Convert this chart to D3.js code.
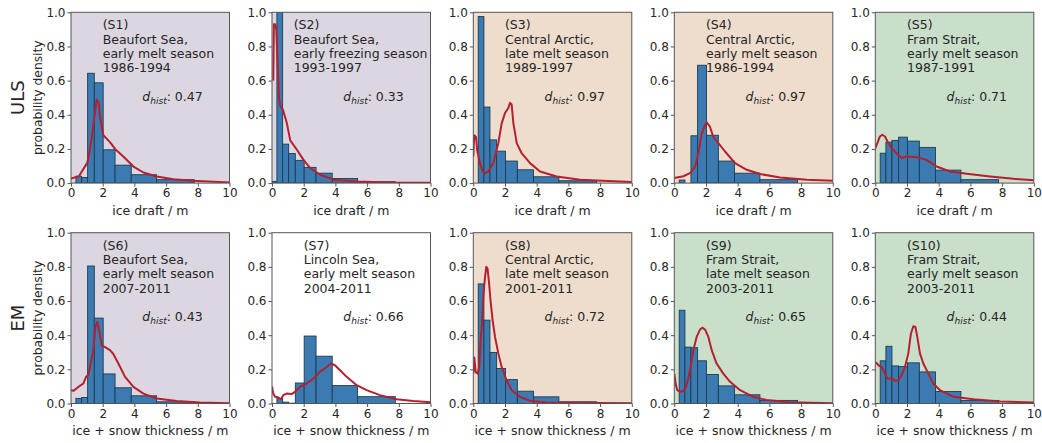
<!DOCTYPE html>
<html>
<head>
<meta charset="utf-8">
<script src="https://cdn.jsdelivr.net/npm/d3@7"></script>
<style>
  html, body { margin: 0; padding: 0; background: #fff; }
  svg { display: block; font-family: "DejaVu Sans", sans-serif; }
</style>
</head>
<body>
<div id="chart"></div>
<script>
// ── Data ───────────────────────────────────────────────────────────────────
const binEdges = [0, 0.31, 0.67, 1.05, 1.47, 2.03, 2.78, 3.8, 5.4, 7.78];

const panelIds = ["S1", "S2", "S3", "S4", "S5", "S6", "S7", "S8", "S9", "S10"];
const regions = ["Beaufort Sea,", "Beaufort Sea,", "Central Arctic,", "Central Arctic,", "Fram Strait,",
                 "Beaufort Sea,", "Lincoln Sea,", "Central Arctic,", "Fram Strait,", "Fram Strait,"];
const seasons = ["early melt season", "early freezing season", "late melt season", "early melt season", "early melt season",
                 "early melt season", "early melt season", "late melt season", "late melt season", "early melt season"];
const periods = ["1986-1994", "1993-1997", "1989-1997", "1986-1994", "1987-1991",
                 "2007-2011", "2004-2011", "2001-2011", "2003-2011", "2003-2011"];
const dhist = ["0.47", "0.33", "0.97", "0.97", "0.71", "0.43", "0.66", "0.72", "0.65", "0.44"];
const regionColor = ["#dcd6e0", "#dcd6e0", "#eedccc", "#eedccc", "#c9dfca",
                     "#dcd6e0", "#ffffff", "#eedccc", "#c9dfca", "#c9dfca"];
const labelX = [2.0, 1.37, 2.0, 2.0, 2.0, 2.0, 2.0, 2.0, 2.0, 2.0];

const rowLabels = ["ULS", "EM"];
const xLabels = ["ice draft / m", "ice + snow thickness / m"];
const xTicks = [0, 2, 4, 6, 8, 10];
const yTicks = [0, 0.2, 0.4, 0.6, 0.8, 1.0];

// observed histograms (one value per bin)
const barsS1  = [0, 0.040, 0.033, 0.643, 0.587, 0.195, 0.105, 0.049, 0.020];
const barsS2  = [0.010, 1.250, 0.228, 0.173, 0.133, 0.092, 0.058, 0.027, 0.008];
const barsS3  = [0, 0.975, 0.445, 0.253, 0.187, 0.129, 0.078, 0.037, 0.014];
const barsS4  = [0, 0.018, 0, 0.277, 0.690, 0.280, 0.129, 0.058, 0.020];
const barsS5  = [0, 0.175, 0.240, 0.250, 0.269, 0.246, 0.209, 0.076, 0.020];
const barsS6  = [0, 0.030, 0.035, 0.805, 0.500, 0.173, 0.092, 0.045, 0.010];
const barsS7  = [0, 0.030, 0.008, 0.002, 0.120, 0.395, 0.277, 0.105, 0.040];
const barsS8  = [0, 0.700, 0.488, 0.299, 0.205, 0.140, 0.072, 0.039, 0.010];
const barsS9  = [0, 0.546, 0.330, 0.327, 0.250, 0.170, 0.103, 0.051, 0.018];
const barsS10 = [0, 0.250, 0.335, 0.220, 0.216, 0.238, 0.185, 0.070, 0.018];

// model distributions [thickness, density]
const modelS1 = [[0,0.027],[0.5,0.04],[1.03,0.12],[1.2,0.2],[1.4,0.33],[1.62,0.49],[1.75,0.47],[1.83,0.39],
  [2.04,0.28],[2.46,0.24],[2.78,0.2],[3.3,0.156],[3.94,0.097],[4.57,0.062],[5.41,0.039],[6.46,0.023],[7.7,0.014],[10,0.004]];
const modelS2 = [[0.08,0.6],[0.12,0.93],[0.21,0.93],[0.27,0.9],[0.36,0.68],[0.44,0.5],[0.52,0.45],[0.69,0.43],
  [0.94,0.35],[1.15,0.25],[1.57,0.195],[1.99,0.136],[2.41,0.088],[3.04,0.049],[3.88,0.02],[5.35,0.01],[7.44,0.004],[10,0.002]];
const modelS3 = [[0,0.156],[0.06,0.28],[0.17,0.27],[0.25,0.19],[0.42,0.117],[0.59,0.068],[0.74,0.058],[0.95,0.068],
  [1.26,0.117],[1.58,0.234],[1.79,0.35],[2.0,0.41],[2.21,0.44],[2.32,0.47],[2.42,0.46],[2.53,0.35],[2.74,0.234],
  [3.05,0.175],[3.58,0.117],[4.21,0.068],[5.26,0.039],[6.74,0.02],[10,0.006]];
const modelS4 = [[0,0.03],[0.57,0.04],[0.99,0.058],[1.31,0.097],[1.52,0.175],[1.73,0.29],[1.94,0.34],[2.04,0.355],
  [2.25,0.33],[2.46,0.27],[2.78,0.234],[3.2,0.185],[3.83,0.117],[4.57,0.078],[5.41,0.053],[6.67,0.033],[8.36,0.02],[10,0.014]];
const modelS5 = [[0,0.205],[0.13,0.234],[0.29,0.273],[0.44,0.283],[0.61,0.273],[0.82,0.234],[1.03,0.205],[1.35,0.175],
  [1.66,0.146],[1.98,0.156],[2.61,0.152],[3.24,0.136],[3.87,0.097],[4.72,0.068],[5.77,0.055],[7.24,0.039],[8.72,0.025],[10,0.016]];
const modelS6 = [[0,0.078],[0.15,0.074],[0.46,0.097],[0.78,0.117],[0.95,0.156],[1.09,0.166],[1.24,0.234],[1.41,0.312],
  [1.54,0.448],[1.66,0.478],[1.77,0.43],[1.94,0.34],[2.15,0.33],[2.46,0.312],[2.67,0.29],[2.99,0.234],[3.41,0.156],
  [3.94,0.097],[4.57,0.058],[5.41,0.029],[6.67,0.014],[8.15,0.006],[10,0.002]];
const modelS7 = [[0,0.1],[0.08,0.058],[0.19,0.039],[0.4,0.035],[0.57,0.025],[0.71,0.049],[0.92,0.058],[1.24,0.055],
  [1.45,0.068],[1.76,0.097],[2.18,0.117],[2.61,0.146],[3.03,0.185],[3.45,0.214],[3.72,0.234],[3.97,0.224],[4.29,0.195],
  [4.71,0.156],[5.34,0.107],[5.97,0.078],[6.81,0.049],[7.86,0.025],[8.91,0.014],[10,0.008]];
const modelS8 = [[0,0.175],[0.06,0.27],[0.15,0.185],[0.27,0.175],[0.38,0.214],[0.46,0.37],[0.55,0.468],[0.63,0.624],
  [0.74,0.74],[0.82,0.8],[0.9,0.79],[0.99,0.71],[1.09,0.6],[1.22,0.487],[1.37,0.39],[1.58,0.292],[1.79,0.214],
  [2.1,0.136],[2.42,0.078],[2.94,0.039],[3.57,0.016],[4.62,0.006],[10,0.002]];
const modelS9 = [[0,0.175],[0.08,0.117],[0.19,0.078],[0.36,0.068],[0.57,0.074],[0.74,0.097],[0.88,0.146],[1.03,0.214],
  [1.2,0.312],[1.41,0.39],[1.62,0.433],[1.79,0.444],[1.96,0.43],[2.15,0.39],[2.36,0.312],[2.67,0.234],[3.09,0.175],
  [3.52,0.127],[4.15,0.078],[4.99,0.039],[5.83,0.02],[7.31,0.008],[10,0.002]];
const modelS10 = [[0,0.234],[0.08,0.238],[0.19,0.224],[0.4,0.214],[0.61,0.175],[0.76,0.146],[1.03,0.146],[1.24,0.133],
  [1.45,0.136],[1.66,0.166],[1.87,0.214],[2.08,0.292],[2.25,0.41],[2.4,0.452],[2.53,0.448],[2.65,0.39],[2.82,0.292],
  [3.03,0.234],[3.35,0.175],[3.66,0.117],[4.08,0.078],[4.93,0.039],[6.19,0.025],[7.87,0.012],[10,0.006]];

const bars = [barsS1, barsS2, barsS3, barsS4, barsS5, barsS6, barsS7, barsS8, barsS9, barsS10];
const models = [modelS1, modelS2, modelS3, modelS4, modelS5, modelS6, modelS7, modelS8, modelS9, modelS10];

// ── Layout ─────────────────────────────────────────────────────────────────
const W = 1042, H = 443;
const colLeft = [71, 272, 473.3, 674.3, 875.3];
const rowTop = [12.3, 232.7];
const PW = 158.5, PH = 170.8;

const TEXT = "#262626", SPINE = "#555", BAR = "#3b7bb1", BAR_EDGE = "#1d3c52", RED = "#b5202e";

const svg = d3.select("#chart").append("svg").attr("width", W).attr("height", H);
svg.append("rect").attr("width", W).attr("height", H).attr("fill", "#fff");

const x = d3.scaleLinear().domain([0, 10]).range([0, PW]);
const y = d3.scaleLinear().domain([0, 1]).range([PH, 0]);
const line = d3.line().x((d) => x(d[0])).y((d) => y(d[1]));

panelIds.forEach((id, i) => {
  const row = Math.floor(i / 5), col = i % 5;
  const g = svg.append("g").attr("transform", `translate(${colLeft[col]},${rowTop[row]})`);

  g.append("rect").attr("width", PW).attr("height", PH).attr("fill", regionColor[i]);

  const clipId = "clip" + i;
  g.append("clipPath").attr("id", clipId).append("rect").attr("width", PW).attr("height", PH);
  const plot = g.append("g").attr("clip-path", `url(#${clipId})`);

  // observed histogram
  plot.selectAll("rect.bar")
    .data(bars[i].map((v, k) => ({ x0: binEdges[k], x1: binEdges[k + 1], v })).filter((d) => d.v > 0))
    .join("rect").attr("class", "bar")
    .attr("x", (d) => x(d.x0)).attr("width", (d) => x(d.x1) - x(d.x0))
    .attr("y", (d) => y(d.v)).attr("height", (d) => y(0) - y(d.v))
    .attr("fill", BAR).attr("stroke", BAR_EDGE).attr("stroke-width", 0.9);

  // model curve
  plot.append("path").datum(models[i]).attr("d", line)
    .attr("fill", "none").attr("stroke", RED).attr("stroke-width", 2)
    .attr("stroke-linejoin", "round");

  // axes
  const ax = g.append("g").attr("transform", `translate(0,${PH})`)
    .call(d3.axisBottom(x).tickValues(xTicks).tickSize(3.5).tickPadding(2).tickFormat(d3.format("d")));
  const ay = g.append("g")
    .call(d3.axisLeft(y).tickValues(yTicks).tickSize(3.5).tickPadding(2).tickFormat(d3.format(".1f")));
  [ax, ay].forEach((a) => {
    a.select(".domain").remove();
    a.selectAll(".tick line").attr("stroke", SPINE).attr("stroke-width", 1);
    a.selectAll(".tick text").attr("fill", TEXT).attr("font-size", "12px").attr("font-family", "DejaVu Sans");
  });

  g.append("rect").attr("width", PW).attr("height", PH)
    .attr("fill", "none").attr("stroke", SPINE).attr("stroke-width", 1);

  // annotation
  const tx = x(labelX[i]);
  [`(${id})`, regions[i], seasons[i], periods[i]].forEach((s, k) => {
    g.append("text").attr("x", tx).attr("y", 17 + k * 14.3)
      .attr("fill", TEXT).attr("font-size", "12.5px").text(s);
  });
  const dt = g.append("text").attr("x", x(4.5)).attr("y", 88.4)
    .attr("fill", TEXT).attr("font-size", "12.5px");
  dt.append("tspan").attr("font-style", "italic").text("d");
  dt.append("tspan").attr("font-style", "italic").attr("font-size", "9px").attr("dy", 3).text("hist");
  dt.append("tspan").attr("dy", -3).text(": " + dhist[i]);

  // x label
  g.append("text").attr("x", PW / 2).attr("y", PH + 32).attr("text-anchor", "middle")
    .attr("fill", TEXT).attr("font-size", "12.5px").text(xLabels[row]);

  // y label (first column only)
  if (col === 0) {
    g.append("text").attr("transform", `translate(-29,${PH / 2}) rotate(-90)`)
      .attr("text-anchor", "middle").attr("fill", TEXT).attr("font-size", "12.3px")
      .text("probability density");
    g.append("text").attr("transform", `translate(-47,${PH / 2}) rotate(-90)`)
      .attr("text-anchor", "middle").attr("fill", TEXT).attr("font-size", "18px")
      .text(rowLabels[row]);
  }
});
</script>
</body>
</html>
